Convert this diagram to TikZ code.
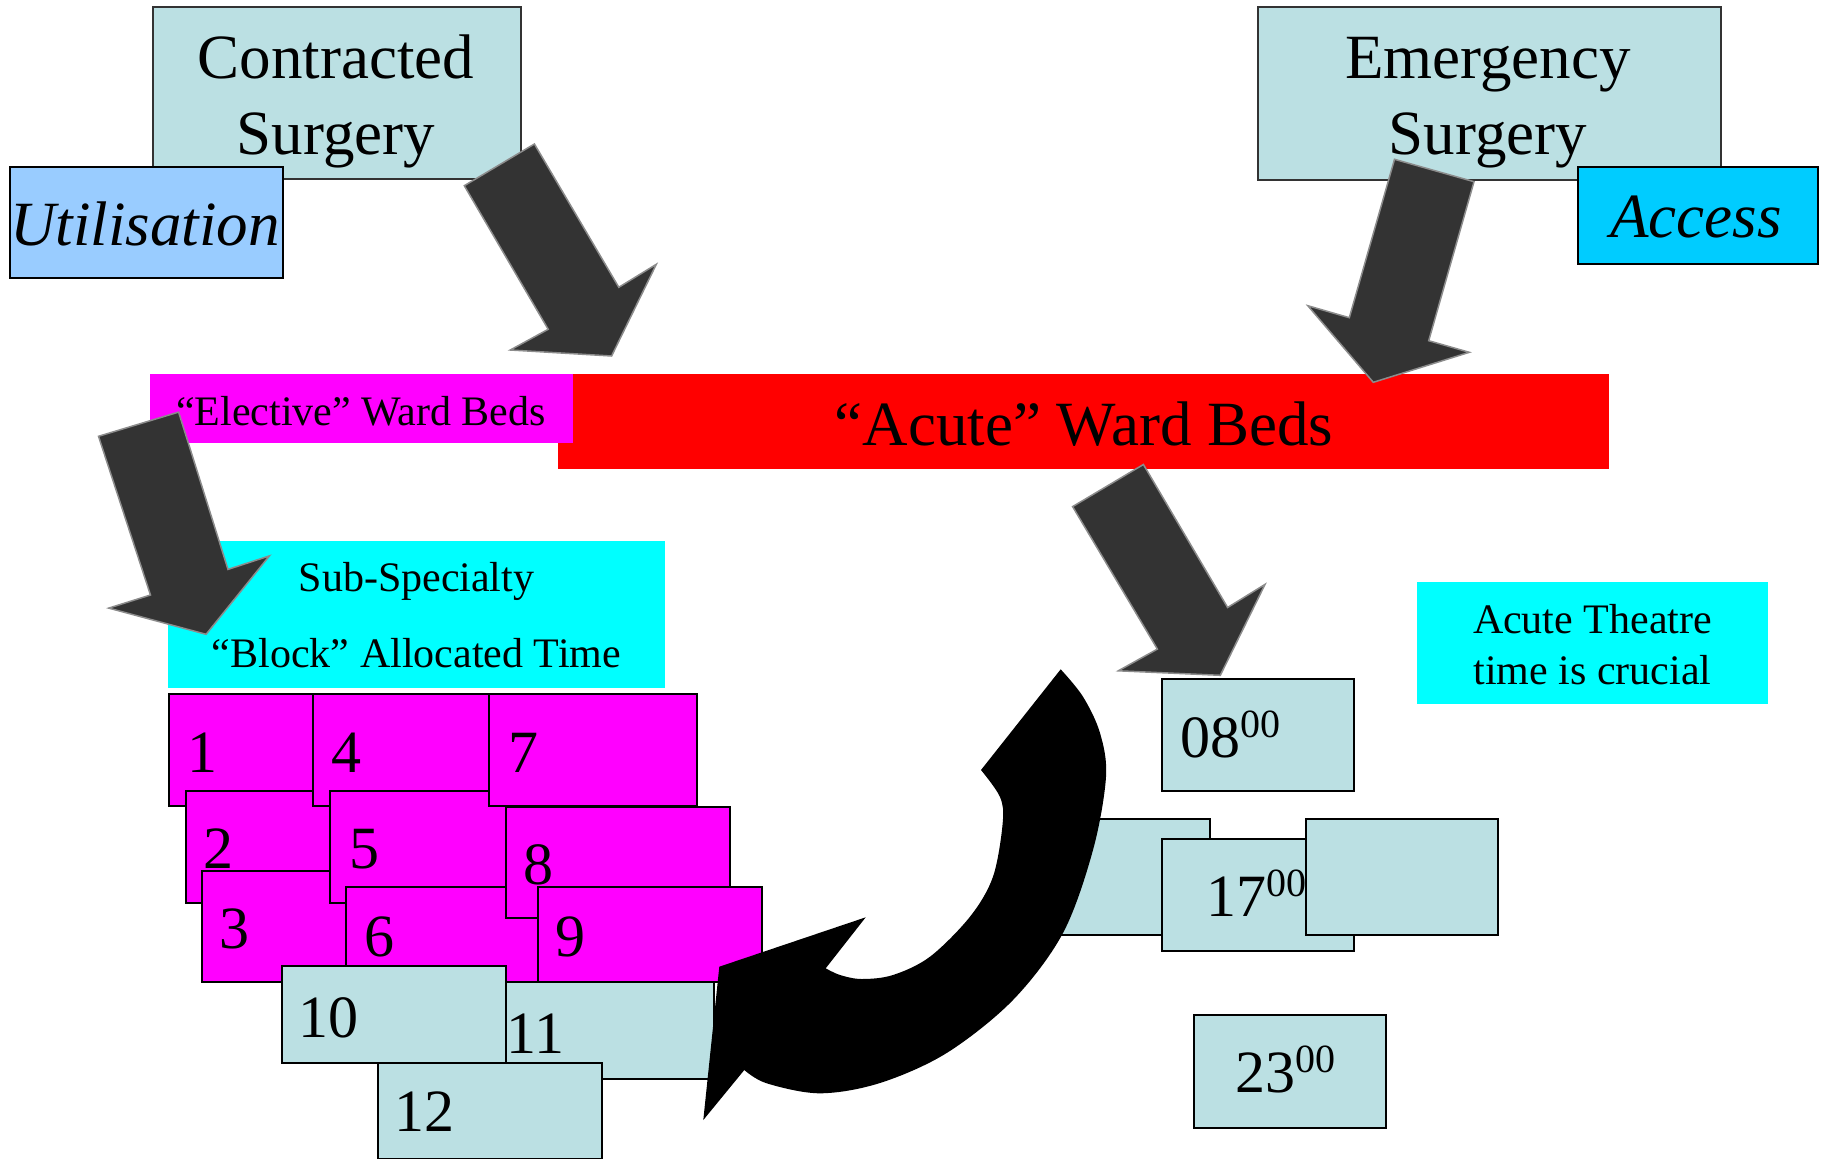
\documentclass[tikz,border=0pt]{standalone}
\usepackage{fontspec}
\setmainfont{Liberation Serif}
\definecolor{pptbox}{HTML}{BBE0E3}
\definecolor{utilblue}{HTML}{99CCFF}
\definecolor{accessblue}{HTML}{00CCFF}
\definecolor{brightcyan}{HTML}{00FFFF}
\definecolor{brightmag}{HTML}{FF00FF}
\definecolor{brightred}{HTML}{FF0000}
\definecolor{arrowgrey}{HTML}{333333}
\definecolor{arrowedge}{HTML}{8C8C8C}
\newcommand\myFbig{\fontsize{63}{76}\selectfont}
\newcommand\myFmid{\fontsize{42}{50}\selectfont}
\newcommand\myFnum{\fontsize{60}{70}\selectfont}
\newcommand\myFsup{\fontsize{40}{46}\selectfont}
\newcommand\myTime[1]{#1\raisebox{20pt}{\myFsup 00}}
\tikzset{
  pbox/.style={rectangle, draw=black, line width=2pt, fill=pptbox, inner sep=0pt, anchor=north west},
  mbox/.style={pbox, fill=brightmag},
  flatbox/.style={rectangle, draw=none, inner sep=0pt, anchor=north west},
  txt/.style={anchor=base, inner sep=0pt},
  numtxt/.style={anchor=base west, inner sep=0pt, font=\myFnum},
  blockarrow/.style={fill=arrowgrey, draw=arrowedge, line width=1.5pt, line join=miter},
}
\begin{document}
\begin{tikzpicture}[x=1pt,y=-1pt]
\useasboundingbox (0,0) rectangle (1824,1159);

% top boxes
\node[pbox, draw=black!80, minimum width=368pt, minimum height=172pt] (cs) at (152,6) {};
\node[txt, font=\myFbig] (cst1) at (336,78) {Contracted};
\node[txt, font=\myFbig] (cst2) at (336,154) {Surgery};
\node[pbox, fill=utilblue, minimum width=273pt, minimum height=111pt] (ut) at (8.5,166) {};
\node[txt, font=\myFbig\itshape] (utt) at (145,245) {Utilisation};

\node[pbox, draw=black!80, minimum width=463pt, minimum height=173pt] (es) at (1257,6) {};
\node[txt, font=\myFbig] (est1) at (1488,78) {Emergency};
\node[txt, font=\myFbig] (est2) at (1488,154) {Surgery};
\node[pbox, fill=accessblue, minimum width=240pt, minimum height=97pt] (ac) at (1576.5,166) {};
\node[txt, font=\myFbig\itshape] (act) at (1696,237) {Access};

% ward bars
\node[flatbox, fill=brightred, minimum width=1051pt, minimum height=95pt] (acute) at (558,374) {};
\node[flatbox, fill=brightmag, minimum width=423pt, minimum height=69pt] (elective) at (150,374) {};
\node[txt, font=\myFmid] (elt) at (361,425) {“Elective” Ward Beds};
\node[txt, font=\myFbig] (act2) at (1084,445) {“Acute” Ward Beds};

% cyan boxes
\node[flatbox, fill=brightcyan, minimum width=497pt, minimum height=147pt] (sub) at (168,541) {};
\node[txt, font=\myFmid] (subt1) at (416.5,591) {Sub-Specialty};
\node[txt, font=\myFmid] (subt2) at (416.5,667) {“Block” Allocated Time};
\node[flatbox, fill=brightcyan, minimum width=351pt, minimum height=122pt] (atb) at (1417,582) {};
\node[txt, font=\myFmid] (att1) at (1592.5,633) {Acute Theatre};
\node[txt, font=\myFmid] (att2) at (1592.5,684) {time is crucial};

% numbered sessions
\node[mbox, minimum width=224pt, minimum height=112pt] (b1) at (168,693.3) {};
\node[numtxt] (t1) at (187,772.5) {1};
\node[mbox, minimum width=224pt, minimum height=112pt] (b2) at (184.7,789.6) {};
\node[numtxt] (t2) at (203,868.5) {2};
\node[mbox, minimum width=224pt, minimum height=111pt] (b3) at (201,869.5) {};
\node[numtxt] (t3) at (219.5,948.5) {3};
\node[mbox, minimum width=224pt, minimum height=112pt] (b4) at (312,693.3) {};
\node[numtxt] (t4) at (331.5,772.5) {4};
\node[mbox, minimum width=224pt, minimum height=112pt] (b5) at (329,789.6) {};
\node[numtxt] (t5) at (349,868.5) {5};
\node[mbox, minimum width=224pt, minimum height=95.3pt] (b6) at (345,885.5) {};
\node[numtxt] (t6) at (364,956.5) {6};
\node[mbox, minimum width=208.4pt, minimum height=112pt] (b7) at (488,693.3) {};
\node[numtxt] (t7) at (508.5,772.5) {7};
\node[mbox, minimum width=223.6pt, minimum height=111.4pt] (b8) at (505,805.6) {};
\node[numtxt] (t8) at (523,884) {8};
\node[mbox, minimum width=224.3pt, minimum height=95.3pt] (b9) at (536.7,885.5) {};
\node[numtxt] (t9) at (555.5,956.5) {9};
\node[pbox, minimum width=223.8pt, minimum height=96.8pt] (b11) at (489,980.8) {};
\node[numtxt] (t11) at (506.5,1053.4) {11};
\node[pbox, minimum width=224pt, minimum height=96.4pt] (b10) at (281,965.3) {};
\node[numtxt] (t10) at (298.5,1037) {10};
\node[pbox, minimum width=224.5pt, minimum height=95.8pt] (b12) at (376.5,1061.7) {};
\node[numtxt] (t12) at (394.5,1131.8) {12};

% time boxes
\node[pbox, minimum width=191.8pt, minimum height=111.8pt] (h08) at (1160.7,678) {};
\node[numtxt] (h08t) at (1180,757.7) {\myTime{08}};
\node[pbox, minimum width=192pt, minimum height=115.4pt] (hl) at (1017,818.3) {};
\node[pbox, minimum width=191.8pt, minimum height=112.2pt] (h17) at (1160.7,837.8) {};
\node[numtxt] (h17t) at (1206,916) {\myTime{17}};
\node[pbox, minimum width=192.3pt, minimum height=116.2pt] (hr) at (1304.5,818) {};
\node[pbox, minimum width=192.3pt, minimum height=112.5pt] (h23) at (1192.5,1014) {};
\node[numtxt] (h23t) at (1235,1092.5) {\myTime{23}};

% curved black arrow
\fill[black] (1060.7,669.3) -- (981,770)
  -- plot[smooth, tension=0.55] coordinates {(981,770) (1000,797) (1002.7,823) (993,876.7) (970,916.7) (930,956.7) (893,975) (861.7,979) (840,975) (825.7,968.3)}
  -- (865.7,917.3) -- (719.3,966.7) -- (703.3,1120) -- (744.3,1070)
  -- plot[smooth, tension=0.55] coordinates {(744.3,1070) (766.7,1083.3) (820,1093.3) (880,1083) (946.7,1053) (1013,1000) (1063,933) (1093,850) (1106,776.7) (1100,733) (1083,696.7) (1060.7,669.3)}
  -- cycle;

% grey block arrows
\draw[blockarrow] (464.3,185.7) -- (534.4,144) -- (618.8,287.3) -- (656.3,264.3) -- (611.6,356) -- (510.3,350) -- (548.2,329.3) -- cycle;
\draw[blockarrow] (1394.5,159.3) -- (1474,181.7) -- (1428.7,340.7) -- (1469.3,352.3) -- (1373.3,382.3) -- (1307.8,305.7) -- (1349.3,317.7) -- cycle;
\draw[blockarrow] (98.5,436.3) -- (178.6,412.1) -- (228,569.4) -- (269.4,555.9) -- (206.1,634.3) -- (108.7,608.1) -- (150.5,595) -- cycle;
\draw[blockarrow] (1072.6,506.6) -- (1143.4,464.5) -- (1227.6,607.5) -- (1265,584.4) -- (1220.3,675.3) -- (1118.3,670.8) -- (1157.4,649.1) -- cycle;
\end{tikzpicture}
\end{document}
